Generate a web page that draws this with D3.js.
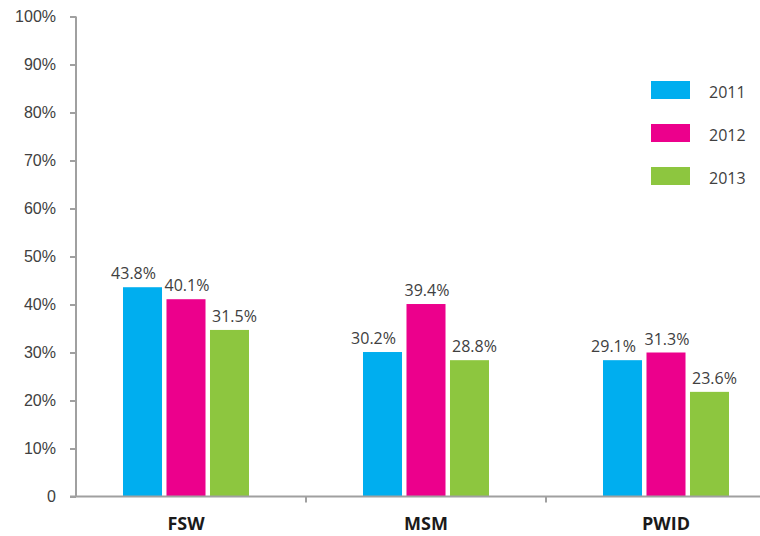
<!DOCTYPE html>
<html>
<head>
<meta charset="utf-8">
<script src="https://cdn.jsdelivr.net/npm/d3@7"></script>
<style>
  body { margin: 0; background: #fff; }
  svg { display: block; font-family: "Open Sans", "Noto Sans", sans-serif; }
  .tickText { font-size: 16px; fill: #404040; }
  .valText { font-size: 16px; fill: #404040; }
  .catText { font-size: 18px; font-weight: bold; fill: #1a1a1a; }
</style>
</head>
<body>
<svg id="chart" width="760" height="536"></svg>
<script>
//  data
const categories = ["FSW", "MSM", "PWID"];
const years = ["2011", "2012", "2013"];
const colors = ["#00aeef", "#ec008c", "#8dc63f"];
//  bar heights as drawn (fractions), one array per year
const values2011 = [0.436, 0.301, 0.284];
const values2012 = [0.411, 0.401, 0.300];
const values2013 = [0.347, 0.284, 0.218];
//  the printed data labels
const labels2011 = ["43.8%", "30.2%", "29.1%"];
const labels2012 = ["40.1%", "39.4%", "31.3%"];
const labels2013 = ["31.5%", "28.8%", "23.6%"];
const yTicks = [0, 0.1, 0.2, 0.3, 0.4, 0.5, 0.6, 0.7, 0.8, 0.9, 1.0];

const seriesValues = [values2011, values2012, values2013];
const seriesLabels = [labels2011, labels2012, labels2013];
const labelNudge = [-9, 1, 5];     //  excel pushes the labels apart a little

const svg = d3.select("#chart");
const axisLeftX = 76;
const baseY = 496.5;

const y = d3.scaleLinear().domain([0, 1]).range([baseY, 16.5]);
const x0 = d3.scaleBand().domain(categories).range([66, 786]);
const x1 = d3.scaleBand().domain(years).range([-63, 63]).paddingInner(0.103);

//  y axis
const yAxis = svg.append("g").attr("transform", `translate(${axisLeftX},0)`)
    .call(d3.axisLeft(y).tickValues(yTicks).tickSize(6).tickPadding(14)
        .tickFormat(d => d === 0 ? "0" : d3.format(".0%")(d)));
yAxis.select(".domain").attr("stroke", "#a0a0a0").attr("stroke-width", 2)
    .attr("d", `M0,${y(1)}V${baseY}`);
yAxis.selectAll(".tick line").attr("stroke", "#a0a0a0").attr("stroke-width", 2);
yAxis.selectAll(".tick text").attr("class", "tickText").attr("font-family", null).attr("font-size", null).attr("fill", null);

//  bars
categories.forEach((cat, ci) => {
    const g = svg.append("g").attr("transform", `translate(${x0(cat) + x0.bandwidth() / 2},0)`);
    years.forEach((yr, si) => {
        const v = seriesValues[si][ci];
        g.append("rect")
            .attr("x", x1(yr)).attr("width", x1.bandwidth())
            .attr("y", y(v)).attr("height", baseY - y(v))
            .attr("fill", colors[si]);
        g.append("text").classed("valText", true)
            .attr("x", x1(yr) + x1.bandwidth() / 2 + labelNudge[si])
            .attr("y", y(v) - 8)
            .attr("text-anchor", "middle")
            .text(seriesLabels[si][ci]);
    });
    g.append("text").classed("catText", true)
        .attr("x", 0).attr("y", 530)
        .attr("text-anchor", "middle")
        .text(cat);
});

//  x axis line and category separators
svg.append("line").attr("x1", axisLeftX - 6).attr("x2", 760)
    .attr("y1", baseY).attr("y2", baseY)
    .attr("stroke", "#a0a0a0").attr("stroke-width", 2);
categories.slice(1).forEach(cat => {
    svg.append("line").attr("x1", x0(cat)).attr("x2", x0(cat))
        .attr("y1", baseY).attr("y2", baseY + 6)
        .attr("stroke", "#a0a0a0").attr("stroke-width", 2);
});

//  legend
const legend = svg.append("g").attr("transform", "translate(651,81)");
years.forEach((yr, i) => {
    legend.append("rect").attr("x", 0).attr("y", i * 43)
        .attr("width", 39).attr("height", 18).attr("fill", colors[i]);
    legend.append("text").classed("valText", true)
        .attr("x", 58).attr("y", i * 43 + 17)
        .text(yr);
});
</script>
</body>
</html>
